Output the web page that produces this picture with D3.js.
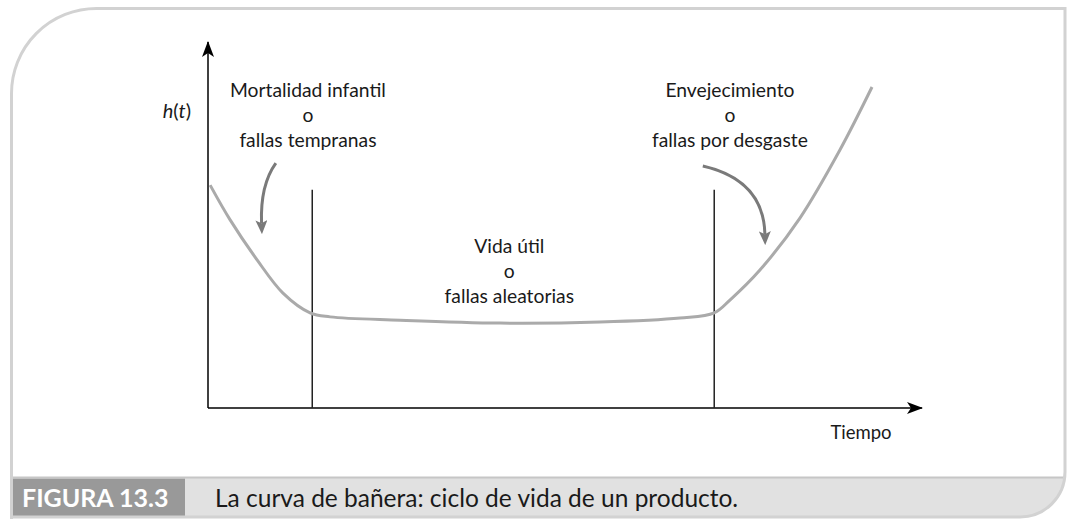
<!DOCTYPE html>
<html><head><meta charset="utf-8">
<script src="https://cdn.jsdelivr.net/npm/d3@7"></script>
<style>
html,body{margin:0;padding:0;background:#fff;}
svg{display:block;}
text{font-family:Lato,"Open Sans",sans-serif;fill:#1a1a1a;}
</style></head>
<body>
<svg id="chart" width="1068" height="519"></svg>
<script>
// ---- data (time units 0..100, hazard units 0..100) ----
const curveTime   = [0.3, 3.1, 6.9, 10.5, 14.3, 17.1, 26.9, 40.9, 54.9, 66.1, 70.9, 73.1, 77.3, 82.9, 88.5, 93.0];
const curveHazard = [60.9, 51.4, 40.4, 31.4, 26.0, 24.9, 24.0, 23.2, 23.5, 24.6, 26.0, 29.5, 37.7, 51.9, 70.5, 87.7];
const phaseBounds = [14.6, 70.9];          // vertical lines (time)
const phaseTop    = 59.6;                  // height of the vertical lines
const phaseLabels = [
  ["Mortalidad infantil", "o", "fallas tempranas"],
  ["Vida útil", "o", "fallas aleatorias"],
  ["Envejecimiento", "o", "fallas por desgaste"]
];
const labelTime   = [14.0, 42.2, 73.1];
const labelHazard = [85.0, 42.3, 85.0];
const arrowStart  = [[9.5, 66.9], [69.3, 66.1]];
const arrowCtrl   = [[7.3, 60.9], [77.8, 62.3]];
const arrowEnd    = [[7.5, 50.5], [78.0, 47.5]];
const yLabel = "h(t)";
const xLabel = "Tiempo";
const figNumber = "FIGURA 13.3";
const caption = "La curva de bañera: ciclo de vida de un producto.";

const W = 1068, H = 519;
const svg = d3.select("#chart");
const x = d3.scaleLinear().domain([0, 100]).range([208, 922]);
const y = d3.scaleLinear().domain([0, 100]).range([408, 42]);

// ---- frame ----
const fL = 11.5, fT = 8.5, fR = 1065, fB = 517, rTL = 85, rBR = 45, bandTop = 477.5;
const framePath = `M${fL},${H+5} L${fL},${fT+rTL} A${rTL},${rTL} 0 0 1 ${fL+rTL},${fT} L${fR},${fT} L${fR},${fB-rBR} A${rBR},${rBR} 0 0 1 ${fR-rBR},${fB} L${fL},${fB} L${fL},${H+5}`;
svg.append("clipPath").attr("id","frameClip").append("path").attr("d", framePath);
const band = svg.append("g").attr("clip-path","url(#frameClip)");
band.append("rect").attr("x",0).attr("y",bandTop).attr("width",W).attr("height",H-bandTop+5).attr("fill","#e1e1e1");
band.append("rect").attr("x",fL+1).attr("y",bandTop+1).attr("width",185-fL-1).attr("height",H).attr("fill","#999999");
svg.append("line").attr("x1",fL).attr("x2",fR).attr("y1",bandTop).attr("y2",bandTop).attr("stroke","#c6c6c6").attr("stroke-width",2);
svg.append("path").attr("d", framePath).attr("fill","none").attr("stroke","#d2d2d2").attr("stroke-width",3);

svg.append("text").attr("x",22).attr("y",507).attr("font-size",25).attr("font-weight",700)
  .style("fill","#ffffff").text(figNumber);
svg.append("text").attr("x",215).attr("y",507).attr("font-size",24.5).style("fill","#1a1a1a").text(caption);

// ---- markers ----
const defs = svg.append("defs");
defs.append("marker").attr("id","axArrow").attr("viewBox","0 0 16 12").attr("refX",15).attr("refY",6)
  .attr("markerWidth",16).attr("markerHeight",12).attr("markerUnits","userSpaceOnUse").attr("orient","auto")
  .append("path").attr("d","M0,0 L16,6 L0,12 L4,6 Z").attr("fill","#000");
defs.append("marker").attr("id","grArrow").attr("viewBox","0 0 14 12").attr("refX",3).attr("refY",6)
  .attr("markerWidth",14).attr("markerHeight",12).attr("markerUnits","userSpaceOnUse").attr("orient","auto")
  .append("path").attr("d","M0,0 L14,6 L0,12 L3,6 Z").attr("fill","#7a7a7a");

// ---- axes ----
svg.append("line").attr("x1",x(0)).attr("x2",x(0)).attr("y1",y(0)).attr("y2",y(100))
  .attr("stroke","#000").attr("stroke-width",1.5).attr("marker-end","url(#axArrow)");
svg.append("line").attr("x1",x(0)).attr("x2",x(100)).attr("y1",y(0)).attr("y2",y(0))
  .attr("stroke","#000").attr("stroke-width",1.5).attr("marker-end","url(#axArrow)");

// phase boundaries
svg.selectAll("line.phase").data(phaseBounds).join("line").attr("class","phase")
  .attr("x1",d=>x(d)).attr("x2",d=>x(d)).attr("y1",y(0)).attr("y2",y(phaseTop))
  .attr("stroke","#222").attr("stroke-width",1.5);

// ---- bathtub curve ----
const pts = curveTime.map((t,i)=>[t, curveHazard[i]]);
svg.append("path").datum(pts)
  .attr("d", d3.line().x(d=>x(d[0])).y(d=>y(d[1])).curve(d3.curveCatmullRom.alpha(0.5)))
  .attr("fill","none").attr("stroke","#aaaaaa").attr("stroke-width",3);

// ---- annotation arrows ----
arrowStart.forEach((s,i)=>{
  const c = arrowCtrl[i], e = arrowEnd[i];
  svg.append("path")
    .attr("d",`M${x(s[0])},${y(s[1])} Q${x(c[0])},${y(c[1])} ${x(e[0])},${y(e[1])}`)
    .attr("fill","none").attr("stroke","#7a7a7a").attr("stroke-width",3)
    .attr("marker-end","url(#grArrow)");
});

// ---- labels ----
phaseLabels.forEach((lines,i)=>{
  const t = svg.append("text").attr("text-anchor","middle").attr("font-size",19.3);
  lines.forEach((ln,j)=>{
    t.append("tspan").attr("x",x(labelTime[i])).attr("y",y(labelHazard[i]) + j*25).text(ln);
  });
});

const yl = svg.append("text").attr("x",191).attr("y",118).attr("text-anchor","end").attr("font-size",20);
yl.append("tspan").attr("font-style","italic").text(yLabel[0]);
yl.append("tspan").text("(");
yl.append("tspan").attr("font-style","italic").text(yLabel[2]);
yl.append("tspan").text(")");

svg.append("text").attr("x",861).attr("y",439).attr("text-anchor","middle").attr("font-size",18.5).text(xLabel);
</script>
</body></html>
